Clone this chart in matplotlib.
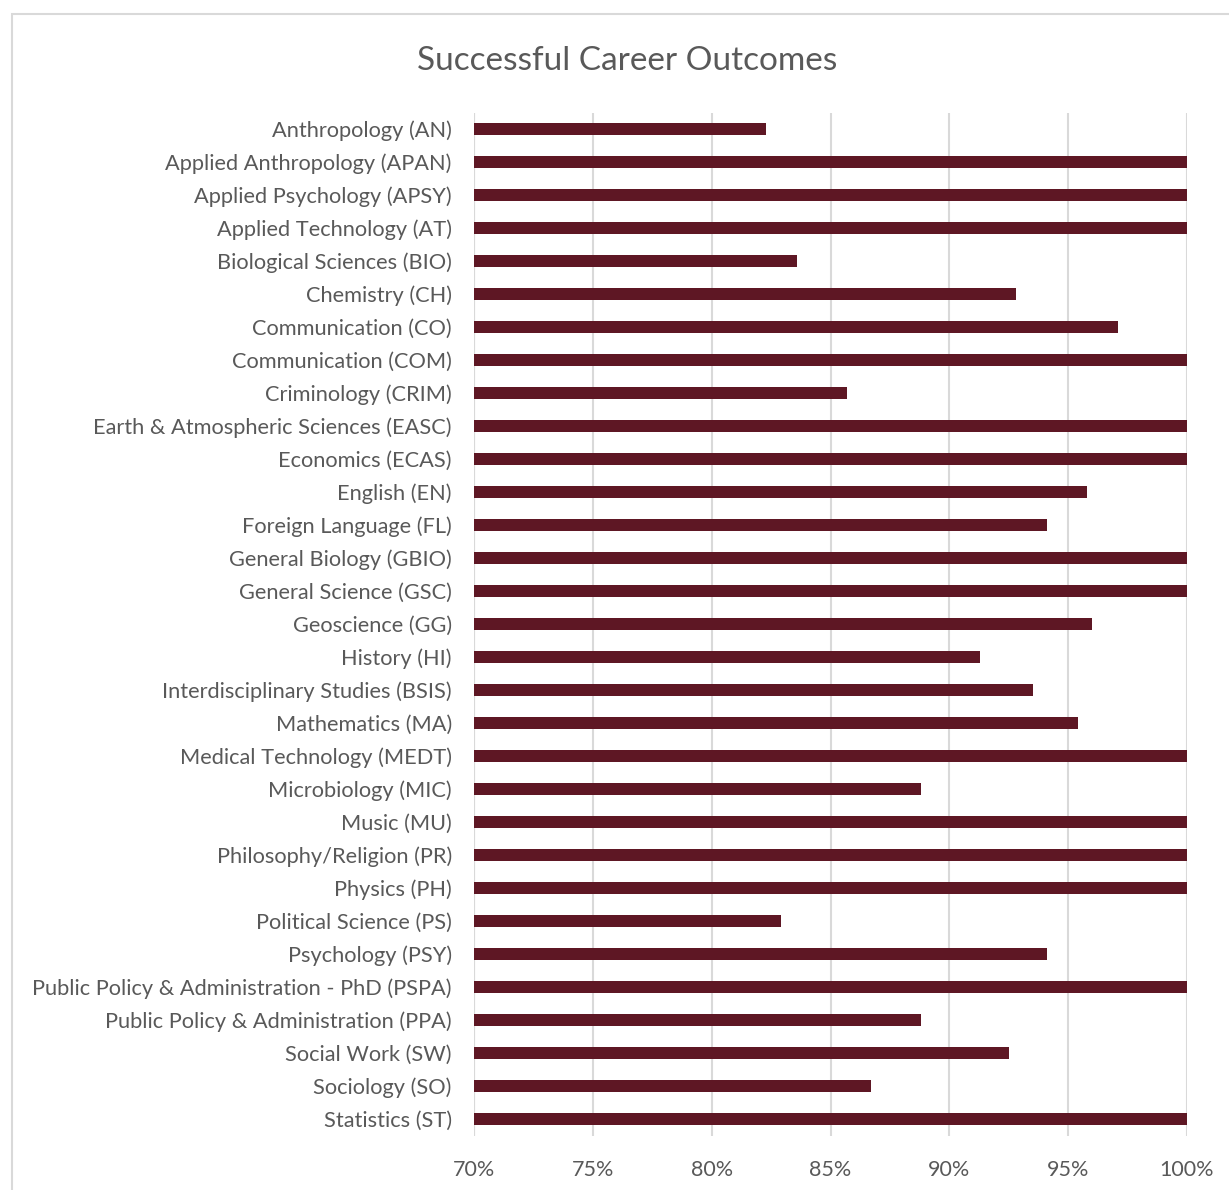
import matplotlib
matplotlib.use("Agg")
import matplotlib.pyplot as plt
from matplotlib.patches import Rectangle
from matplotlib.ticker import FixedLocator, FuncFormatter

categories = [
    "Anthropology (AN)", "Applied Anthropology (APAN)", "Applied Psychology (APSY)",
    "Applied Technology (AT)", "Biological Sciences (BIO)", "Chemistry (CH)",
    "Communication (CO)", "Communication (COM)", "Criminology (CRIM)",
    "Earth & Atmospheric Sciences (EASC)", "Economics (ECAS)", "English (EN)",
    "Foreign Language (FL)", "General Biology (GBIO)", "General Science (GSC)",
    "Geoscience (GG)", "History (HI)", "Interdisciplinary Studies (BSIS)",
    "Mathematics (MA)", "Medical Technology (MEDT)", "Microbiology (MIC)",
    "Music (MU)", "Philosophy/Religion (PR)", "Physics (PH)",
    "Political Science (PS)", "Psychology (PSY)",
    "Public Policy & Administration - PhD (PSPA)", "Public Policy & Administration (PPA)",
    "Social Work (SW)", "Sociology (SO)", "Statistics (ST)",
]
values = [
    0.823, 1.0, 1.0, 1.0, 0.836, 0.928, 0.971, 1.0, 0.857,
    1.0, 1.0, 0.958, 0.941, 1.0, 1.0, 0.960, 0.913, 0.935,
    0.954, 1.0, 0.888, 1.0, 1.0, 1.0, 0.829, 0.941,
    1.0, 0.888, 0.925, 0.867, 1.0,
]
xticks = [0.70, 0.75, 0.80, 0.85, 0.90, 0.95, 1.00]
title = "Successful Career Outcomes"

plt.rcParams['font.family'] = ['Lato', 'DejaVu Sans']
text_color = "#595959"
bar_color = "#5E1724"
grid_color = "#D9D9D9"

W, H = 1229, 1190
fig = plt.figure(figsize=(W / 100, H / 100), dpi=100)

# chart border
fig.patches.append(Rectangle((12 / W, -0.05), 1.2, (H - 14) / H + 0.05,
                             transform=fig.transFigure, fill=False,
                             edgecolor="#D9D9D9", linewidth=1.5))

left, right, top, bottom = 474, 1187, 112.5, 1135.5
ax = fig.add_axes([left / W, 1 - bottom / H, (right - left) / W, (bottom - top) / H])

n = len(categories)
ypos = list(range(n))
ax.barh(ypos, [v - xticks[0] for v in values], left=xticks[0], height=0.36,
        color=bar_color, zorder=3)
ax.set_ylim(n - 0.5, -0.5)
ax.set_xlim(xticks[0], xticks[-1])
ax.set_yticks(ypos)
ax.set_yticklabels(categories, fontsize=15.7, color=text_color)
ax.xaxis.set_major_locator(FixedLocator(xticks))
ax.xaxis.set_major_formatter(FuncFormatter(lambda v, p: f"{round(v * 100)}%"))
ax.tick_params(axis='x', labelsize=15.5, labelcolor=text_color, length=0, pad=18)
ax.tick_params(axis='y', length=0, pad=16)
ax.grid(axis='x', color=grid_color, linewidth=1.5, zorder=0)
ax.set_axisbelow(True)
for s in ax.spines.values():
    s.set_visible(False)
ax.axvline(xticks[0], color=grid_color, linewidth=1.5, zorder=1)

fig.text(627 / W, 1 - 61 / H, title, ha='center', va='center', fontsize=24,
         color=text_color)

fig.savefig("out.png", dpi=100, facecolor="white")
